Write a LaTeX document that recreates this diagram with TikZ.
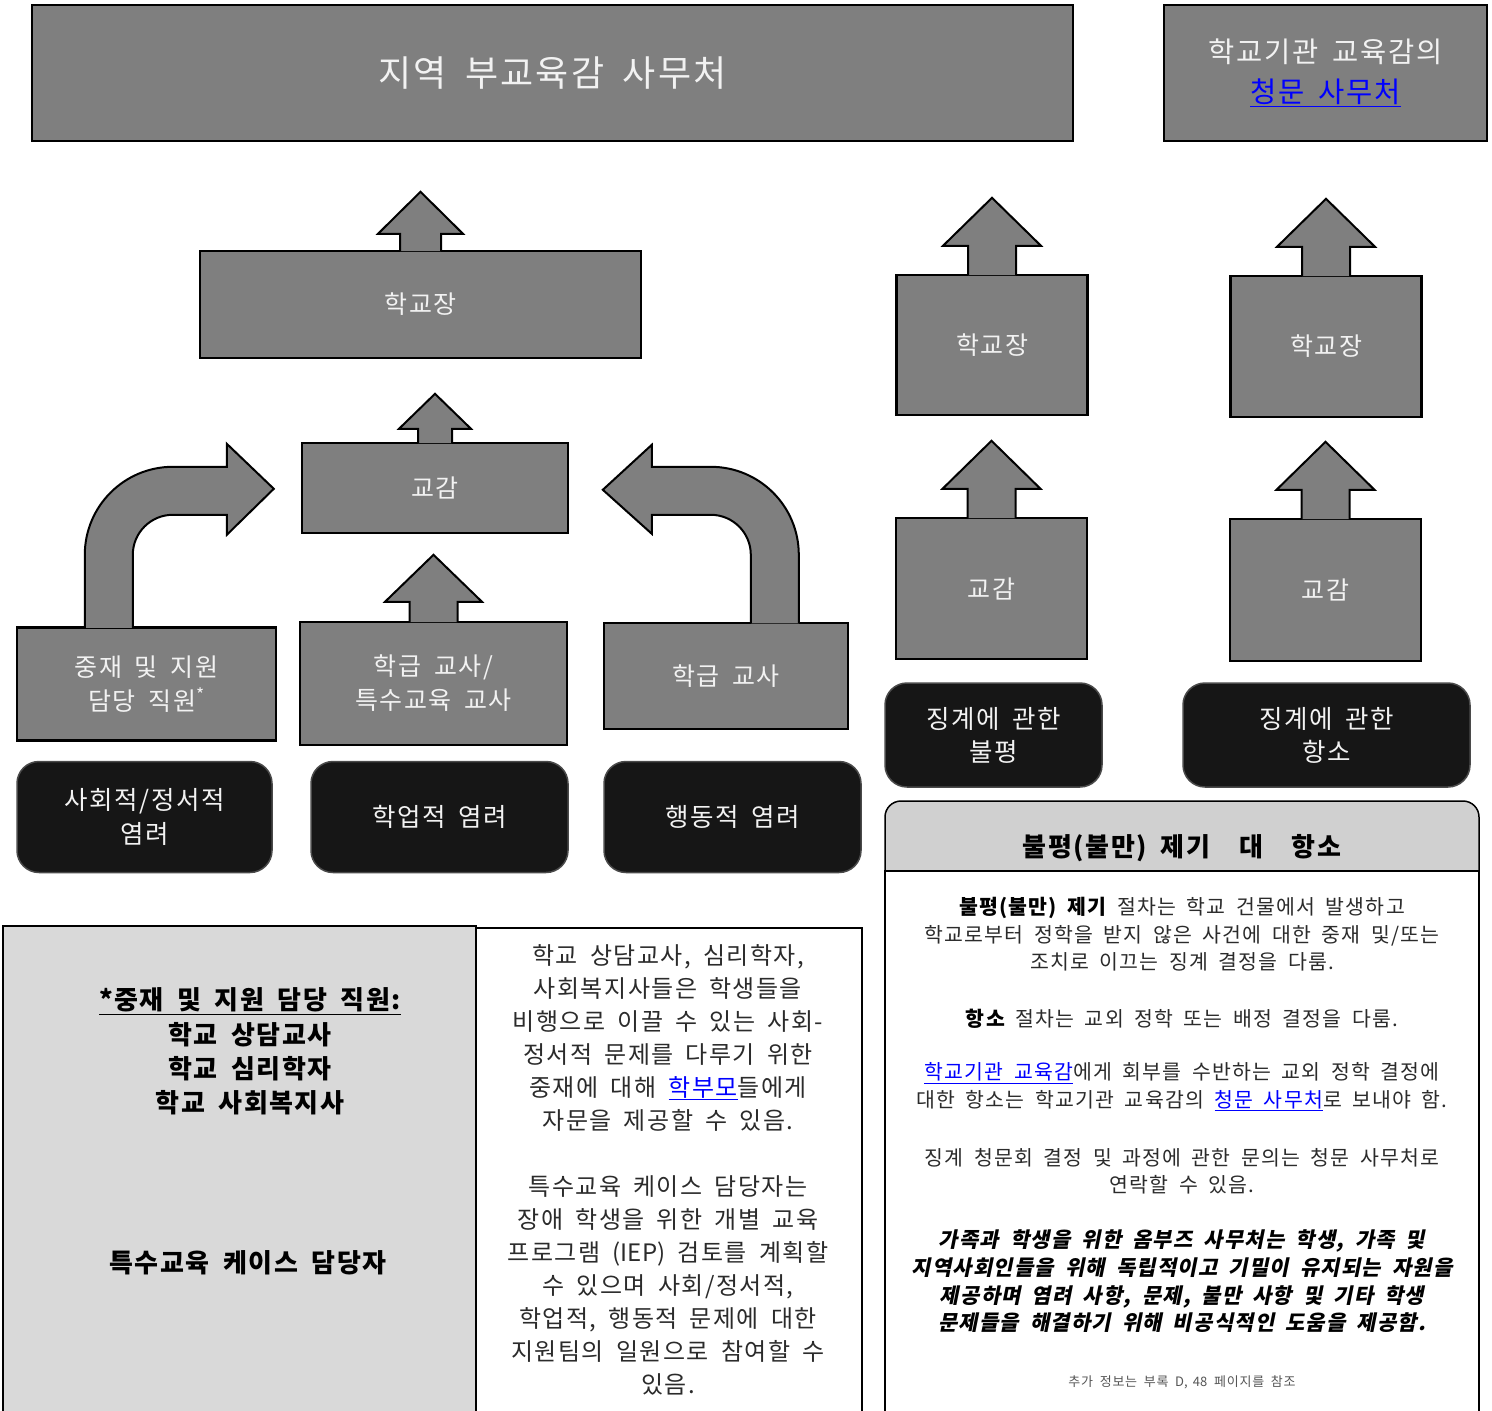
\documentclass[tikz,border=0pt]{standalone}
\usepackage{fontspec}
\setmainfont{Noto Sans CJK KR}[WordSpace=1.8, LetterSpace=6]
\newfontfamily\slantfont{Noto Sans CJK KR}[WordSpace=1.8, LetterSpace=6, FakeSlant=0.2]
\newfontfamily\plainlatin{Noto Sans CJK KR}[WordSpace=1.8]
\usetikzlibrary{calc}
\definecolor{boxgray}{HTML}{7F7F7F}
\definecolor{boxtext}{HTML}{F2F2F2}
\definecolor{darkfill}{HTML}{161616}
\definecolor{darkedge}{HTML}{4A4A4A}
\definecolor{panelgray}{HTML}{D9D9D9}
\definecolor{headgray}{HTML}{D0D0D0}
\definecolor{linkblue}{HTML}{0000FF}
\definecolor{textdark}{HTML}{2B2B2B}
\definecolor{notegray}{HTML}{555555}
\newcommand{\setfs}[2]{\fontsize{#1pt}{#2pt}\selectfont}
\newcommand{\linktext}[1]{\textcolor{linkblue}{\underline{#1}}}
\tikzset{
  graybox/.style={draw=black, line width=2.4pt, fill=boxgray, text=boxtext, align=center, inner sep=0pt, font=\setfs{25}{34}},
  darkbox/.style={draw=darkedge, line width=1.5pt, fill=darkfill, rounded corners=22pt, text=boxtext, align=center, inner sep=0pt, font=\setfs{25.5}{34}},
  blockarr/.style={draw=black, line width=2pt, fill=boxgray, line join=miter},
  bodytext/.style={align=center, text=textdark, inner sep=0pt, font=\setfs{20.5}{27.5}},
}
% block arrow pointing up from the top of a node:
% #1 node, #2 half stem, #3 half head, #4 stem length, #5 head length
\newcommand{\blockup}[5]{%
  \draw[blockarr] ($(#1.north)+(-#2,1.2)$) -- ++(0,-#4-1.2) -- ++(#2-#3,0)
    -- ++(#3,-#5) -- ++(#3,#5) -- ++(#2-#3,0) -- ++(0,#4+1.2);}
\begin{document}
\begin{tikzpicture}[x=1pt,y=-1pt]
  \useasboundingbox (0,0) rectangle (1492,1411);
  \clip (0,0) rectangle (1492,1411);

  % top row
  \node[graybox, minimum width=1041pt, minimum height=136pt, font=\setfs{36}{40}] (dist) at (552.5,73) {지역 부교육감 사무처};
  \node[graybox, minimum width=323pt, minimum height=136pt, font=\setfs{28.5}{40}] (hear) at (1325.5,73) {학교기관 교육감의\\\linktext{청문 사무처}};

  % left chain
  \node[graybox, minimum width=441pt, minimum height=107pt] (pr1) at (420.5,304.5) {학교장};
  \node[graybox, minimum width=266pt, minimum height=90pt] (vp1) at (435,488) {교감};
  \node[graybox, minimum width=259pt, minimum height=113pt] (ms) at (146.5,684) {중재 및 지원\\담당 직원\textsuperscript{*}};
  \node[graybox, minimum width=267pt, minimum height=123pt] (tt) at (433.5,683.5) {학급 교사/\\특수교육 교사};
  \node[graybox, minimum width=244pt, minimum height=106pt] (ct) at (726,676) {학급 교사};

  \node[darkbox, minimum width=255pt, minimum height=111pt] (soc) at (144.5,817) {사회적/정서적\\염려};
  \node[darkbox, minimum width=257pt, minimum height=111pt] (acad) at (439.5,817) {학업적 염려};
  \node[darkbox, minimum width=257pt, minimum height=111pt] (beh) at (732.5,817) {행동적 염려};

  % right chains
  \node[graybox, minimum width=191pt, minimum height=140pt] (pr2) at (992,345) {학교장};
  \node[graybox, minimum width=191pt, minimum height=141pt] (pr3) at (1326,346.5) {학교장};
  \node[graybox, minimum width=191pt, minimum height=141pt] (vp2) at (991.5,588.5) {교감};
  \node[graybox, minimum width=191pt, minimum height=142pt] (vp3) at (1325.5,590) {교감};
  \node[darkbox, minimum width=217pt, minimum height=104pt, font=\setfs{25.5}{33}] (griev) at (993.5,735) {징계에 관한\\불평};
  \node[darkbox, minimum width=287pt, minimum height=104pt, font=\setfs{25.5}{33}] (appeal) at (1326.5,735) {징계에 관한\\항소};

  % arrows
  \blockup{pr1}{20.5}{42.5}{16}{42}
  \blockup{vp1}{17}{36}{13}{35}
  \blockup{tt}{24}{48.5}{19}{47}
  \foreach \n in {pr2,pr3,vp2,vp3} {\blockup{\n}{24}{49}{28}{48}}

  \coordinate (la) at ($(ms.north west)+(69,1.5)$);
  \draw[blockarr] (la) -- ++(0,-73) arc[start angle=180,end angle=270,radius=88]
    -- ++(54,0) -- ++(0,-23) -- ++(47,45) -- ++(-47,46) -- ++(0,-20) -- ++(-54,0)
    arc[start angle=270,end angle=180,radius=40] -- ++(0,73);
  \coordinate (ra) at ($(ct.north west)+(196,1.5)$);
  \draw[blockarr] (ra) -- ++(0,-68.5) arc[start angle=0,end angle=-90,radius=88]
    -- ++(-59,0) -- ++(0,-22) -- ++(-49,45) -- ++(49,44) -- ++(0,-19) -- ++(59,0)
    arc[start angle=-90,end angle=0,radius=40] -- ++(0,68.5);

  % bottom left panels
  \draw[line width=2pt, fill=panelgray] (3,926) rectangle (476,1430);
  \draw[line width=2pt, fill=white] (476,928) rectangle (862,1430);
  \node[align=center, inner sep=0pt, font=\bfseries\setfs{26}{34.3}] (stafflist) at (250,1051.5) {\underline{*중재 및 지원 담당 직원:}\\학교 상담교사\\학교 심리학자\\학교 사회복지사};
  \node[inner sep=0pt, font=\bfseries\setfs{26}{34}] (casemgr) at (248,1263) {특수교육 케이스 담당자};
  \node[bodytext, font=\setfs{24}{33}] (staffinfo) at (668,1169.5) {학교 상담교사, 심리학자,\\사회복지사들은 학생들을\\비행으로 이끌 수 있는 사회-\\정서적 문제를 다루기 위한\\중재에 대해 \linktext{학부모}들에게\\자문을 제공할 수 있음.\\[33pt]특수교육 케이스 담당자는\\장애 학생을 위한 개별 교육\\프로그램 {\plainlatin (IEP)} 검토를 계획할\\수 있으며 사회/정서적,\\학업적, 행동적 문제에 대한\\지원팀의 일원으로 참여할 수\\있음.};

  % bottom right panel
  \draw[line width=1.5pt, fill=headgray, rounded corners=16pt] (885,871) -- (885,801) -- (1479,801) -- (1479,871);
  \draw[line width=2pt, fill=white] (885,871) rectangle (1479,1430);
  \node[inner sep=0pt, font=\bfseries\setfs{26}{30}] (gvtitle) at (1182,848) {불평(불만) 제기\hspace{30pt}대\hspace{28pt}항소};
  \node[bodytext] (gv1) at (1182,934.5) {\textbf{\textcolor{black}{불평(불만) 제기}} 절차는 학교 건물에서 발생하고\\학교로부터 정학을 받지 않은 사건에 대한 중재 및/또는\\조치로 이끄는 징계 결정을 다룸.};
  \node[bodytext] (gv2) at (1182,1019) {\textbf{\textcolor{black}{항소}} 절차는 교외 정학 또는 배정 결정을 다룸.};
  \node[bodytext] (gv3) at (1182,1087) {\linktext{학교기관 교육감}에게 회부를 수반하는 교외 정학 결정에\\대한 항소는 학교기관 교육감의 \linktext{청문 사무처}로 보내야 함.};
  \node[bodytext] (gv4) at (1182,1171.5) {징계 청문회 결정 및 과정에 관한 문의는 청문 사무처로\\연락할 수 있음.};
  \node[bodytext, text=black, font=\slantfont\bfseries\setfs{21}{27.7}] (gv5) at (1182,1281.5) {가족과 학생을 위한 옴부즈 사무처는 학생, 가족 및\\지역사회인들을 위해 독립적이고 기밀이 유지되는 자원을\\제공하며 염려 사항, 문제, 불만 사항 및 기타 학생\\문제들을 해결하기 위해 비공식적인 도움을 제공함.};
  \node[inner sep=0pt, text=notegray, font=\setfs{13}{16}] (gvnote) at (1182,1382) {추가 정보는 부록 {\plainlatin D, 48} 페이지를 참조};
\end{tikzpicture}
\end{document}
